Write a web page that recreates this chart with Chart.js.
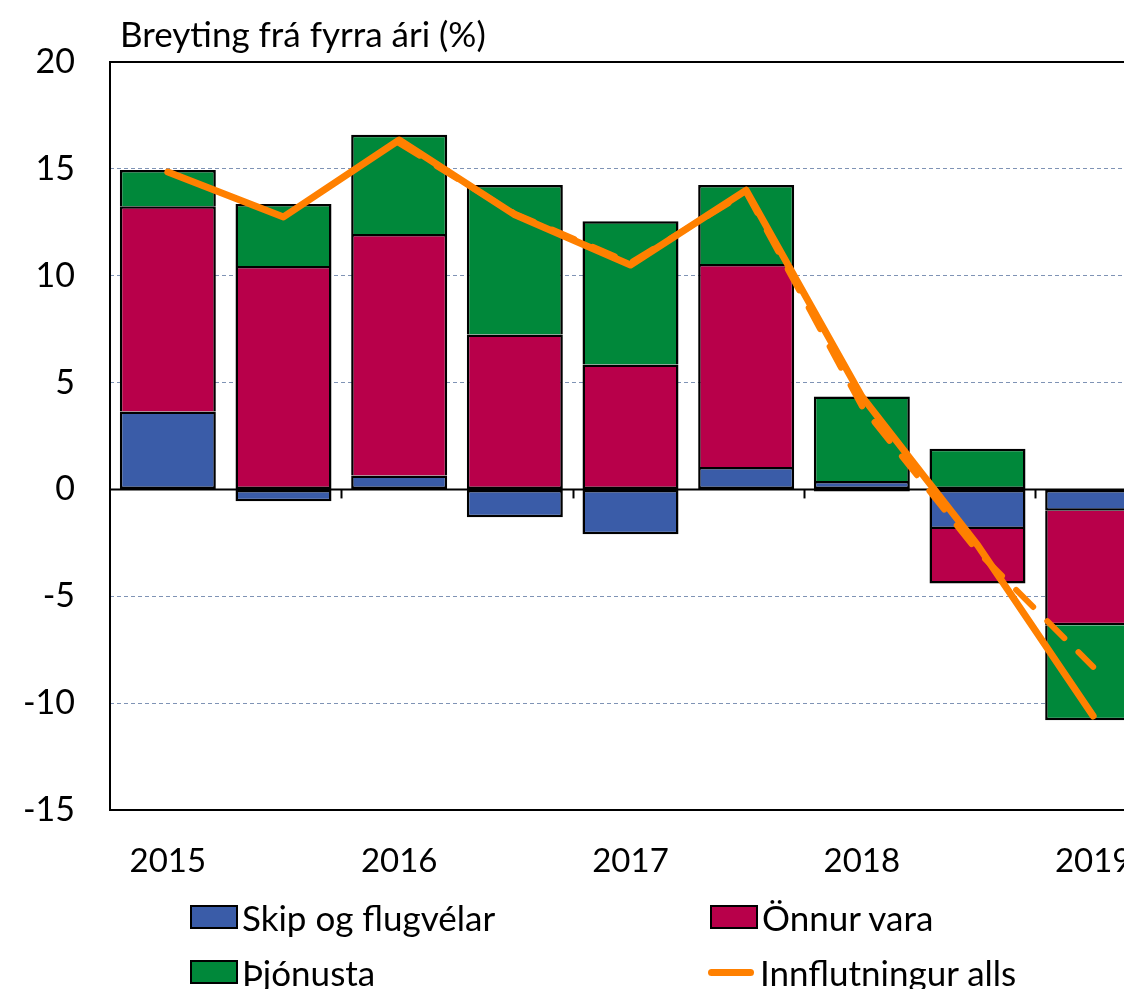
<!DOCTYPE html>
<html>
<head>
<meta charset="utf-8">
<script src="https://cdn.jsdelivr.net/npm/chart.js@4.4.1/dist/chart.umd.min.js"></script>
<style>
  html, body { margin: 0; padding: 0; background: #fff; overflow: hidden; width: 1124px; height: 989px; }
  #wrap { position: absolute; left: 0; top: 0; width: 1170px; height: 989px; }
  .txt { position: absolute; font-family: Lato, "Liberation Sans", sans-serif; color: #000; white-space: nowrap; }
  #title { left: 120px; top: 12px; font-size: 35px; line-height: 42px; }
  .lg { position: absolute; font-family: Lato, "Liberation Sans", sans-serif; font-size: 35px; color: #000; white-space: nowrap; display: flex; align-items: center; height: 30px; }
  .lg .box { width: 44px; height: 20px; border: 2px solid #000; margin-right: 4px; box-sizing: content-box; }
  .lg .ln { width: 46px; height: 7px; border-radius: 4px; margin-right: 6px; }
</style>
</head>
<body>
<div id="wrap"><canvas id="c" width="1170" height="989"></canvas></div>
<div class="txt" id="title">Breyting frá fyrra ári (%)</div>
<div id="legend"></div>
<script>
// ---- data ----
const categories = ['2015H1','2015H2','2016H1','2016H2','2017H1','2017H2','2018H1','2018H2','2019H1'];
const tickLabels = ['2015','','2016','','2017','','2018','','2019'];
const skipOgFlugvelar = [3.65, -0.55, 0.65, -1.3, -2.1, 1.05, 0.4, -1.85, -1.0];
const onnurVara       = [9.6, 10.45, 11.3, 7.25, 5.85, 9.5, -0.1, -2.55, -5.35];
const thjonusta       = [1.7, 2.9, 4.65, 7.0, 6.7, 3.7, 3.95, 1.9, -4.45];
const innflutningurAlls = [14.85, 12.75, 16.35, 12.85, 10.5, 14.0, 4.35, -2.6, -10.6];
const innflutningurSpa  = [null, null, 16.2, 12.9, 10.6, 13.9, 3.9, -2.9, -8.3];
const yTicks = [-15, -10, -5, 0, 5, 10, 15, 20];

const BLUE = '#3A5CA8', RED = '#B8004A', GREEN = '#00883A', ORANGE = '#FF8000';
const FONT = 'Lato, "Liberation Sans", sans-serif';
const barSeries = [skipOgFlugvelar, onnurVara, thjonusta];

const framePlugin = {
  id: 'frame',
  beforeDatasetsDraw(chart) {
    const {ctx, chartArea: a, scales: {x, y}} = chart;
    ctx.save();
    ctx.strokeStyle = '#000';
    ctx.lineWidth = 2;
    ctx.strokeRect(a.left, a.top, a.right - a.left, a.bottom - a.top);
    const y0 = y.getPixelForValue(0);
    ctx.beginPath();
    ctx.moveTo(a.left, y0); ctx.lineTo(a.right, y0);
    ctx.stroke();
    // year-boundary tick marks on the zero line
    for (let i = 2; i < categories.length; i += 2) {
      const xb = (x.getPixelForValue(i - 1) + x.getPixelForValue(i)) / 2;
      ctx.beginPath();
      ctx.moveTo(Math.round(xb) + 0.5, y0); ctx.lineTo(Math.round(xb) + 0.5, y0 + 9);
      ctx.stroke();
    }
    ctx.restore();
  }
};

// avoid doubled borders between stacked segments
const BW = 2.5;
function segBorder(c) {
  const di = c.datasetIndex, i = c.dataIndex;
  const v = barSeries[di] ? barSeries[di][i] : 0;
  let below = false;
  for (let k = 0; k < di; k++) {
    const w = barSeries[k][i];
    if ((v >= 0 && w > 0) || (v < 0 && w < 0)) below = true;
  }
  const bw = { top: BW, bottom: BW, left: BW, right: BW };
  if (below) { if (v >= 0) bw.bottom = 0; else bw.top = 0; }
  return bw;
}

const barCommon = { borderColor: '#000', borderWidth: segBorder, borderSkipped: false, stack: 'bars', order: 3,
  barPercentage: 0.83, categoryPercentage: 1.0 };

const chart = new Chart(document.getElementById('c'), {
  data: {
    labels: categories,
    datasets: [
      Object.assign({ type: 'bar', label: 'Skip og flugvélar', data: skipOgFlugvelar, backgroundColor: BLUE }, barCommon),
      Object.assign({ type: 'bar', label: 'Önnur vara', data: onnurVara, backgroundColor: RED }, barCommon),
      Object.assign({ type: 'bar', label: 'Þjónusta', data: thjonusta, backgroundColor: GREEN }, barCommon),
      { type: 'line', label: 'Innflutningur alls (fyrri spá)', data: innflutningurSpa, borderColor: ORANGE,
        borderWidth: 6, borderDash: [24, 20], borderCapStyle: 'round', pointRadius: 0, tension: 0,
        stack: 'l2', order: 2, spanGaps: false },
      { type: 'line', label: 'Innflutningur alls', data: innflutningurAlls, borderColor: ORANGE,
        borderWidth: 7, borderCapStyle: 'round', borderJoinStyle: 'round', pointRadius: 0, tension: 0,
        stack: 'l1', order: 1 }
    ]
  },
  options: {
    responsive: false,
    animation: false,
    events: [],
    layout: { padding: { top: 62, right: 19, bottom: 99, left: 0 } },
    plugins: { legend: { display: false }, title: { display: false }, tooltip: { enabled: false } },
    scales: {
      x: {
        stacked: true,
        grid: { display: false, drawTicks: false },
        border: { display: false },
        ticks: { autoSkip: false, maxRotation: 0, padding: 32, color: '#000',
          font: { family: FONT, size: 33 },
          callback: (v, i) => tickLabels[i] },
        afterFit: s => { s.height = 80; }
      },
      y: {
        stacked: true,
        min: -15, max: 20,
        afterBuildTicks: s => { s.ticks = yTicks.map(v => ({ value: v })); },
        grid: { drawTicks: false, lineWidth: 1,
          color: c => ([20, 0, -15].includes(c.tick.value) ? 'rgba(0,0,0,0)' : '#7F93B5') },
        border: { display: false, dash: [4, 3] },
        ticks: { padding: 35, color: '#000', font: { family: FONT, size: 34 } },
        afterFit: s => { s.width = 110; }
      }
    }
  },
  plugins: [framePlugin]
});

// HTML legend built from the chart's datasets
const legendPos = [
  { ds: 0, left: 190, top: 902, kind: 'box' },
  { ds: 1, left: 710, top: 902, kind: 'box' },
  { ds: 2, left: 190, top: 957, kind: 'box' },
  { ds: 4, left: 708, top: 957, kind: 'line' }
];
const lg = document.getElementById('legend');
legendPos.forEach(p => {
  const d = chart.data.datasets[p.ds];
  const el = document.createElement('div');
  el.className = 'lg';
  el.style.left = p.left + 'px';
  el.style.top = p.top + 'px';
  const m = document.createElement('span');
  if (p.kind === 'box') { m.className = 'box'; m.style.background = d.backgroundColor; }
  else { m.className = 'ln'; m.style.background = d.borderColor; }
  el.appendChild(m);
  const t = document.createElement('span');
  t.textContent = d.label;
  el.appendChild(t);
  lg.appendChild(el);
});
</script>
</body>
</html>
